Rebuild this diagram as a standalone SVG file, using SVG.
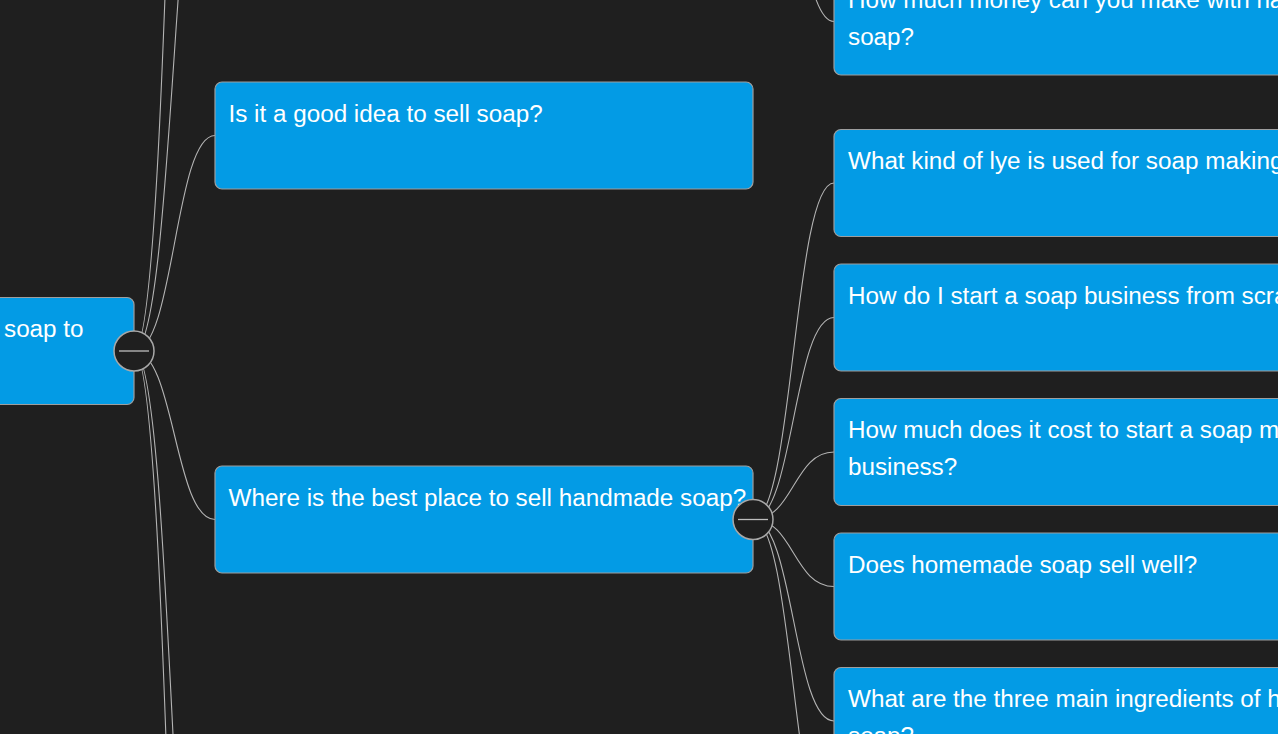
<svg xmlns="http://www.w3.org/2000/svg" width="1278" height="734" viewBox="0 0 1278 734">
<style>
.bg{fill:#1f1f1f}
.node rect{fill:#039be5;stroke:#9e9e9e;stroke-width:1.2}
.node text{font-family:"Liberation Sans",Arial,sans-serif;font-size:24.25px;fill:#ffffff}
#connectors path{fill:none;stroke:#b4b4b4;stroke-width:1.1}
.toggle circle{fill:#1f1f1f;stroke:#a8a8a8;stroke-width:1.5}
.toggle line{stroke:#bdbdbd;stroke-width:1.3}
</style>
<rect class="bg" x="0" y="0" width="1278" height="734"/>
<g id="connectors">
<path d="M134,351 C174.5,351 174.5,-904 215,-904"/>
<path d="M134,351 C174.5,351 174.5,-248 215,-248"/>
<path d="M134,351 C174.5,351 174.5,135.5 215,135.5"/>
<path d="M134,351 C174.5,351 174.5,519.5 215,519.5"/>
<path d="M134,351 C174.5,351 174.5,1179 215,1179"/>
<path d="M134,351 C174.5,351 174.5,1629 215,1629"/>
<path d="M753,-248 C793.5,-248 793.5,21.5 834,21.5"/>
<path d="M753,519.5 C793.5,519.5 793.5,183 834,183"/>
<path d="M753,519.5 C793.5,519.5 793.5,317.5 834,317.5"/>
<path d="M753,519.5 C793.5,519.5 793.5,452 834,452"/>
<path d="M753,519.5 C793.5,519.5 793.5,586.5 834,586.5"/>
<path d="M753,519.5 C793.5,519.5 793.5,721 834,721"/>
<path d="M753,519.5 C793.5,519.5 793.5,855.5 834,855.5"/>
</g>
<g id="node-root" class="node">
<rect x="-404" y="297.5" width="538" height="107" rx="7"/>
<text x="4" y="337">soap to</text>
</g>
<g id="node-good-idea" class="node">
<rect x="215" y="82" width="538" height="107" rx="7"/>
<text x="228.5" y="121.5">Is it a good idea to sell soap?</text>
</g>
<g id="node-best-place" class="node">
<rect x="215" y="466" width="538" height="107" rx="7"/>
<text x="228.5" y="505.5">Where is the best place to sell handmade soap?</text>
</g>
<g id="node-money" class="node">
<rect x="834" y="-32" width="540" height="107" rx="7"/>
<text x="848" y="7.5">How much money can you make with ha</text>
<text x="848" y="44.8">soap?</text>
</g>
<g id="node-lye" class="node">
<rect x="834" y="129.5" width="540" height="107" rx="7"/>
<text x="848" y="169">What kind of lye is used for soap making</text>
</g>
<g id="node-start" class="node">
<rect x="834" y="264" width="540" height="107" rx="7"/>
<text x="848" y="303.5">How do I start a soap business from scra</text>
</g>
<g id="node-cost" class="node">
<rect x="834" y="398.5" width="540" height="107" rx="7"/>
<text x="848" y="437.8">How much does it cost to start a soap m</text>
<text x="848" y="475">business?</text>
</g>
<g id="node-sell-well" class="node">
<rect x="834" y="533" width="540" height="107" rx="7"/>
<text x="848" y="572.5">Does homemade soap sell well?</text>
</g>
<g id="node-ingredients" class="node">
<rect x="834" y="667.5" width="540" height="107" rx="7"/>
<text x="848" y="707">What are the three main ingredients of h</text>
<text x="848" y="744.3">soap?</text>
</g>
<g id="toggle-root" class="toggle">
<circle cx="134" cy="351" r="20"/>
<line x1="119" y1="351" x2="149" y2="351"/>
</g>
<g id="toggle-best-place" class="toggle">
<circle cx="753" cy="519.5" r="20"/>
<line x1="738" y1="519.5" x2="768" y2="519.5"/>
</g>
</svg>
